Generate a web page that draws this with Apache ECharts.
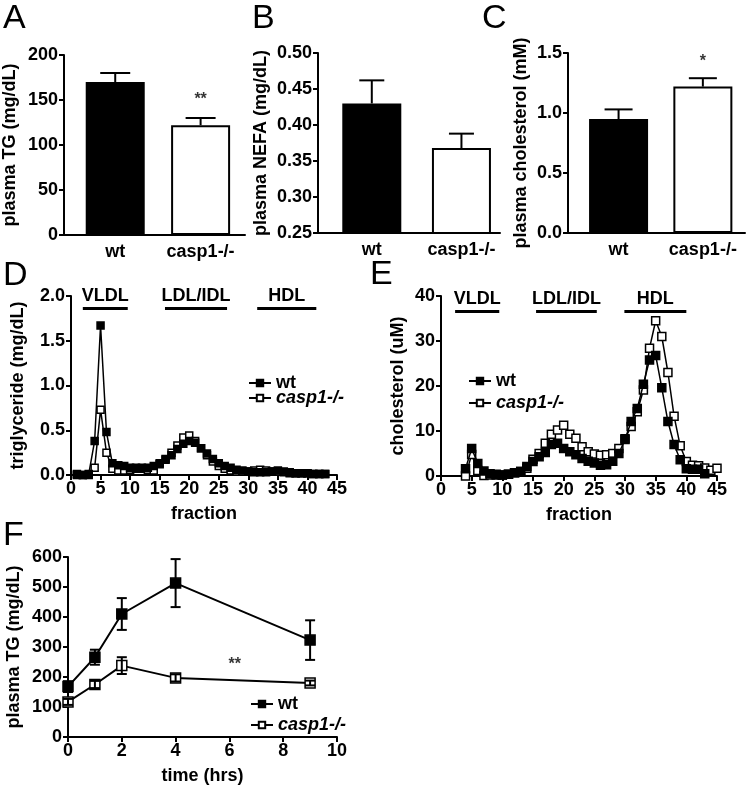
<!DOCTYPE html>
<html>
<head>
<meta charset="utf-8">
<script src="https://cdn.jsdelivr.net/npm/echarts@6/dist/echarts.min.js"></script>
</head>
<body style="margin:0;background:#fff">
<div id="main" style="width:752px;height:787px"></div>
<script>
// ---- data ----
var groups = ['wt', 'casp1-/-'];
var groupPos = [0.6, 1.6];

var tgMean = [170, 122];
var tgSem = [10, 8];
var nefaMean = [0.430, 0.368];
var nefaSem = [0.032, 0.020];
var cholMean = [0.95, 1.22];
var cholSem = [0.08, 0.07];

// FPLC triglyceride, fractions 1..43
var tgWt = [0.01, 0, 0.01, 0.38, 1.67, 0.48, 0.13, 0.11, 0.10, 0.08,
  0.08, 0.08, 0.08, 0.10, 0.13, 0.17, 0.22, 0.29, 0.35, 0.38,
  0.36, 0.30, 0.24, 0.18, 0.13, 0.10, 0.08, 0.06, 0.05, 0.04,
  0.03, 0.03, 0.03, 0.04, 0.05, 0.04, 0.03, 0.02, 0.02, 0.02,
  0.01, 0.01, 0.01];
var tgKo = [0, 0, 0, 0.08, 0.73, 0.25, 0.07, 0.05, 0.05, 0.06,
  0.07, 0.07, 0.06, 0.05, 0.12, 0.18, 0.25, 0.33, 0.42, 0.44,
  0.38, 0.30, 0.22, 0.15, 0.10, 0.07, 0.05, 0.04, 0.04, 0.04,
  0.05, 0.06, 0.05, 0.04, 0.04, 0.03, 0.02, 0.02, 0.02, 0.02,
  0.01, 0.01, 0.01];
var tgFirst = 1;

// FPLC cholesterol, wt fractions 4..43, casp1-/- fractions 4..45
var chWt = [1.6, 6.1, 2.8, 1.1, 0.5, 0.4, 0.2, 0.4, 0.7, 1.0,
  2.1, 3.2, 4.3, 5.2, 7.0, 7.3, 6.1, 5.4, 4.7, 3.9,
  3.3, 2.9, 2.4, 2.5, 3.3, 5.0, 8.1, 12.1, 15.0, 20.4,
  25.8, 26.8, 19.6, 12.1, 7.0, 3.6, 1.6, 1.5, 1.5, 0.5];
var chKo = [0, 4.8, 1.2, 0.1, 0.2, 0.2, 0.2, 0.4, 0.7, 1.0,
  1.7, 3.7, 5.0, 7.3, 9.3, 10.2, 11.3, 9.3, 8.4, 6.5,
  5.4, 4.9, 4.6, 4.7, 5.0, 6.1, 8.3, 11.0, 14.3, 19.1,
  28.4, 34.5, 31.0, 23.0, 13.3, 6.7, 3.2, 2.4, 2.3, 1.8,
  1.3, 1.7];
var chFirst = 4;

var bandsTg = [[2, 9.6, 'VLDL'], [15.9, 26.4, 'LDL/IDL'], [31.5, 41.5, 'HDL']];
var bandTgY = 1.866;
var bandsCh = [[2.3, 9.5, 'VLDL'], [15.5, 25.4, 'LDL/IDL'], [29.9, 40, 'HDL']];
var bandChY = 36.7;

// oral fat tolerance
var hours = [0, 1, 2, 4, 9];
var otWt = [168, 266, 410, 513, 323];
var otWtSem = [18, 25, 53, 80, 66];
var otKo = [117, 175, 238, 197, 180];
var otKoSem = [10, 12, 28, 12, 8];

// ---- helpers ----
var FONT = 'Liberation Sans';
var txt = {fontFamily: FONT, fontWeight: 'bold', color: '#000'};

function pairs(first, ys) {
  return ys.map(function (y, i) { return [first + i, y]; });
}
function xy(xs, ys) {
  return xs.map(function (x, i) { return [x, ys[i]]; });
}

function errBars(capW, both) {
  return function (params, api) {
    var x = api.value(0), m = api.value(1), e = api.value(2);
    var pm = api.coord([x, m]);
    var hi = api.coord([x, m + e]);
    var lo = both ? api.coord([x, m - e]) : pm;
    var st = {stroke: '#000', lineWidth: 2};
    var kids = [
      {type: 'line', shape: {x1: lo[0], y1: lo[1], x2: hi[0], y2: hi[1]}, style: st},
      {type: 'line', shape: {x1: hi[0] - capW / 2, y1: hi[1], x2: hi[0] + capW / 2, y2: hi[1]}, style: st}
    ];
    if (both) kids.push({type: 'line', shape: {x1: lo[0] - capW / 2, y1: lo[1], x2: lo[0] + capW / 2, y2: lo[1]}, style: st});
    return {type: 'group', children: kids};
  };
}

var axisLine = {lineStyle: {color: '#000', width: 2}, onZero: false};
var axisTick = {length: 5, lineStyle: {color: '#000', width: 2}};

function barX(idx, max) {
  return {
    gridIndex: idx, type: 'value', min: 0, max: max,
    axisLine: axisLine, axisTick: {show: false}, splitLine: {show: false},
    axisLabel: Object.assign({fontSize: 18, margin: 8, customValues: groupPos,
      formatter: function (v) { return groups[groupPos.indexOf(v)]; }}, txt)
  };
}
function valY(idx, min, max, step, dec, name, gap) {
  return {
    gridIndex: idx, type: 'value', min: min, max: max, interval: step,
    axisLine: axisLine, axisTick: axisTick, splitLine: {show: false},
    axisLabel: Object.assign({fontSize: 18, margin: 6,
      formatter: function (v) { return v.toFixed(dec); }}, txt),
    name: name, nameLocation: 'middle', nameRotate: 90, nameGap: gap,
    nameTextStyle: Object.assign({fontSize: 18}, txt)
  };
}
function valX(idx, max, step, name) {
  return {
    gridIndex: idx, type: 'value', min: 0, max: max, interval: step,
    axisLine: axisLine, axisTick: axisTick, splitLine: {show: false},
    axisLabel: Object.assign({fontSize: 18, margin: 5}, txt),
    name: name, nameLocation: 'middle', nameGap: 30,
    nameTextStyle: Object.assign({fontSize: 18}, txt)
  };
}

function barSeries(idx, means) {
  return {
    type: 'bar', xAxisIndex: idx, yAxisIndex: idx, barWidth: 59, silent: true,
    data: means.map(function (m, i) {
      return {value: [groupPos[i], m], itemStyle: i === 0
        ? {color: '#000', borderColor: '#000', borderWidth: 2}
        : {color: '#fff', borderColor: '#000', borderWidth: 2}};
    })
  };
}
function errSeries(idx, xs, means, sems, cap, both) {
  return {
    type: 'custom', xAxisIndex: idx, yAxisIndex: idx, silent: true, z: 5,
    renderItem: errBars(cap, both),
    data: xs.map(function (x, i) { return [x, means[i], sems[i]]; })
  };
}
function lineSeries(idx, name, data, filled, size, w) {
  return {
    type: 'line', name: name, xAxisIndex: idx, yAxisIndex: idx, data: data,
    symbol: 'rect', symbolSize: size, showSymbol: true, silent: true, z: filled ? 4 : 3,
    lineStyle: {color: '#000', width: w},
    itemStyle: {color: filled ? '#000' : '#fff', borderColor: '#000', borderWidth: 1.5}
  };
}
function bandSeries(idx, bands, y) {
  return {
    type: 'line', xAxisIndex: idx, yAxisIndex: idx, data: [], silent: true,
    markLine: {
      symbol: 'none', silent: true, animation: false,
      lineStyle: {color: '#000', width: 3, type: 'solid'},
      label: Object.assign({show: true, position: 'insideMiddleTop', distance: 3,
        fontSize: 18, formatter: '{b}'}, txt),
      data: bands.map(function (b) {
        return [{coord: [b[0], y], name: b[2]}, {coord: [b[1], y]}];
      })
    }
  };
}
function starSeries(idx, x, y, s) {
  return {
    type: 'scatter', xAxisIndex: idx, yAxisIndex: idx, symbolSize: 0, silent: true,
    data: [[x, y]],
    label: Object.assign({show: true, position: 'inside', fontSize: 16, formatter: s}, txt)
  };
}
function legendAt(left, top, gap) {
  return {
    left: left, top: top, orient: 'vertical', itemGap: gap, itemWidth: 22, itemHeight: 8,
    data: ['wt', 'casp1-/-'], selectedMode: false,
    formatter: function (n) { return n === 'wt' ? '{b|wt}' : '{i|casp1-/-}'; },
    textStyle: {rich: {
      b: {fontFamily: FONT, fontWeight: 'bold', fontSize: 18, color: '#000'},
      i: {fontFamily: FONT, fontWeight: 'bold', fontStyle: 'italic', fontSize: 18, color: '#000'}
    }}
  };
}
function letter(x, y, s) {
  return {type: 'text', left: x, top: y, style: {text: s, font: '34px "Liberation Sans"', fill: '#000'}};
}

var chart = echarts.init(document.getElementById('main'), null, {renderer: 'canvas'});
chart.setOption({
  animation: false,
  backgroundColor: '#fff',
  grid: [
    {left: 63, top: 55, width: 182, height: 180},
    {left: 318, top: 53, width: 182, height: 180},
    {left: 568, top: 53, width: 177, height: 180},
    {left: 71, top: 296, width: 266, height: 179},
    {left: 441, top: 296, width: 276, height: 180},
    {left: 68, top: 557, width: 269, height: 180}
  ],
  xAxis: [
    barX(0, 2.12), barX(1, 2.03), barX(2, 2.1),
    valX(3, 45, 5, 'fraction'),
    valX(4, 45, 5, 'fraction'),
    valX(5, 10, 2, 'time (hrs)')
  ],
  yAxis: [
    valY(0, 0, 200, 50, 0, 'plasma TG (mg/dL)', 45),
    valY(1, 0.25, 0.5, 0.05, 2, 'plasma NEFA (mg/dL)', 48),
    valY(2, 0, 1.5, 0.5, 1, 'plasma cholesterol (mM)', 38),
    valY(3, 0, 2, 0.5, 1, 'triglyceride (mg/dL)', 44),
    valY(4, 0, 40, 10, 0, 'cholesterol (uM)', 34),
    valY(5, 0, 600, 100, 0, 'plasma TG (mg/dL)', 45)
  ],
  legend: [legendAt(243, 369, -3), legendAt(463, 367, 4), legendAt(245, 690, 3)],
  graphic: [
    letter(3, 2, 'A'), letter(252, 2, 'B'), letter(482, 2, 'C'),
    letter(3, 259, 'D'), letter(370, 258, 'E'), letter(3, 519, 'F')
  ],
  series: [
    barSeries(0, tgMean), errSeries(0, groupPos, tgMean, tgSem, 30, false),
    starSeries(0, groupPos[1], 150, '**'),
    barSeries(1, nefaMean), errSeries(1, groupPos, nefaMean, nefaSem, 25, false),
    barSeries(2, cholMean), errSeries(2, groupPos, cholMean, cholSem, 28, false),
    starSeries(2, groupPos[1], 1.43, '*'),

    lineSeries(3, 'casp1-/-', pairs(tgFirst, tgKo), false, 7, 1.5),
    lineSeries(3, 'wt', pairs(tgFirst, tgWt), true, 7, 1.5),
    bandSeries(3, bandsTg, bandTgY),

    lineSeries(4, 'casp1-/-', pairs(chFirst, chKo), false, 8, 1.5),
    lineSeries(4, 'wt', pairs(chFirst, chWt), true, 8, 1.5),
    bandSeries(4, bandsCh, bandChY),

    errSeries(5, hours, otWt, otWtSem, 10, true),
    errSeries(5, hours, otKo, otKoSem, 10, true),
    lineSeries(5, 'wt', xy(hours, otWt), true, 10, 2),
    lineSeries(5, 'casp1-/-', xy(hours, otKo), false, 10, 2),
    starSeries(5, 6.2, 240, '**')
  ]
});
</script>
</body>
</html>
